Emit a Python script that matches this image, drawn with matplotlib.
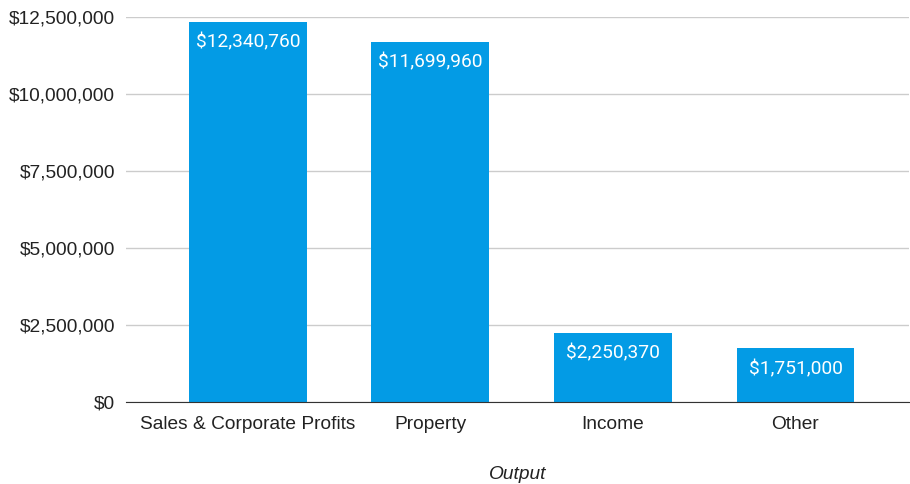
import matplotlib.pyplot as plt
from matplotlib.ticker import FuncFormatter

#%% Data
categories = ["Sales & Corporate Profits", "Property", "Income", "Other"]
values = [12340760, 11699960, 2250370, 1751000]
yticks = [0, 2500000, 5000000, 7500000, 10000000, 12500000]

#%% Plot
fig = plt.figure(figsize=(9.1, 4.84), dpi=100)
ax = fig.add_axes([0.1385, 0.1694, 0.86, 0.7955])

bars = ax.bar(range(len(categories)), values, width=0.645, color="#039be5", zorder=3)

for b, v in zip(bars, values):
    ax.annotate(f"${v:,.0f}", (b.get_x() + b.get_width() / 2, v),
                xytext=(0, -15), textcoords="offset points", ha="center", va="center",
                color="white", fontsize=13.8, family="Roboto", zorder=4)

ax.set_xlim(-0.667, 3.62)
ax.set_ylim(0, 12500000)
ax.set_yticks(yticks)
ax.yaxis.set_major_formatter(FuncFormatter(lambda v, p: f"${v:,.0f}"))
ax.set_xticks(range(len(categories)))
ax.set_xticklabels(categories)
ax.tick_params(length=0, labelsize=13.8, colors="#222222", pad=8)
ax.tick_params(axis="x", pad=10)
for lab in ax.get_xticklabels() + ax.get_yticklabels():
    lab.set_family("Liberation Sans")

ax.grid(axis="y", color="#cccccc", linewidth=1, zorder=0)
for s in ["top", "right", "left"]:
    ax.spines[s].set_visible(False)
ax.spines["bottom"].set_color("#333333")
ax.spines["bottom"].set_zorder(5)

ax.set_xlabel("Output", fontsize=13.8, style="italic", family="Liberation Sans",
              color="#222222", labelpad=24)

fig.savefig("out.png", dpi=100)
